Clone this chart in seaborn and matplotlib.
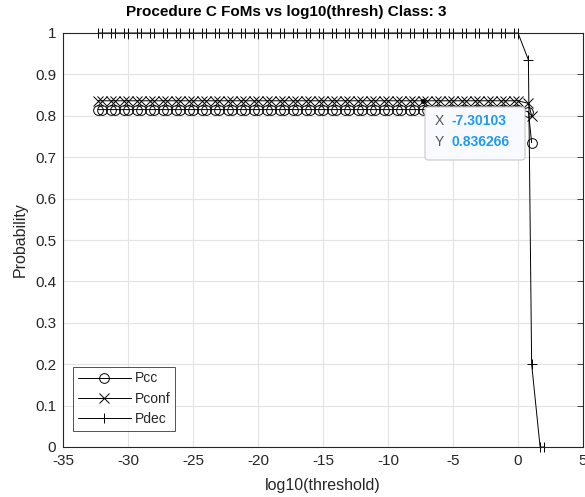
import numpy as np
import pandas as pd
import matplotlib
matplotlib.use("Agg")
import matplotlib.pyplot as plt
from matplotlib.patches import FancyBboxPatch
from matplotlib.lines import Line2D
import seaborn as sns

# log10 of the decision thresholds swept by Procedure C
log_thresh = [
    -32.301, -32.0, -31.301, -31.0, -30.301, -30.0, -29.301, -29.0,
    -28.301, -28.0, -27.301, -27.0, -26.301, -26.0, -25.301, -25.0,
    -24.301, -24.0, -23.301, -23.0, -22.301, -22.0, -21.301, -21.0,
    -20.301, -20.0, -19.301, -19.0, -18.301, -18.0, -17.301, -17.0,
    -16.301, -16.0, -15.301, -15.0, -14.301, -14.0, -13.301, -13.0,
    -12.301, -12.0, -11.301, -11.0, -10.301, -10.0, -9.301, -9.0,
    -8.301, -8.0, -7.30103, -7.0, -6.301, -6.0, -5.301, -5.0,
    -4.301, -4.0, -3.301, -3.0, -2.301, -2.0, -1.301, -1.0,
    -0.301, 0.0, 0.80, 1.05, 1.70, 2.0,
]

# figures of merit (Pcc / Pconf are undefined once nothing is declared)
pcc = [0.815] * 66 + [0.81, 0.735]
pconf = [0.836266] * 66 + [0.83, 0.80]
pdec = [1.0] * 66 + [0.935, 0.2, 0.0, 0.0]

series_names = ["Pcc", "Pconf", "Pdec"]
series_markers = ["o", "x", "+"]
series_msize = [7, 6.5, 7.5]

tip_x, tip_y = -7.30103, 0.836266

x_ticks = [-35, -30, -25, -20, -15, -10, -5, 0, 5]
y_ticks = [0, 0.1, 0.2, 0.3, 0.4, 0.5, 0.6, 0.7, 0.8, 0.9, 1]

sns.set_style("white")
plt.rcParams["font.family"] = ["Liberation Sans", "DejaVu Sans"]
plt.rcParams["axes.unicode_minus"] = False

W, H = 585, 497
fig = plt.figure(figsize=(W / 100, H / 100), dpi=100)
ax = fig.add_axes([63 / W, 1 - 447 / H, 520 / W, 414 / H])

axis_col = "#262626"
for name, vals, mk, ms in zip(series_names, [pcc, pconf, pdec],
                              series_markers, series_msize):
    n = len(vals)
    df = pd.DataFrame({"x": log_thresh[:n], "y": vals})
    sns.lineplot(data=df, x="x", y="y", ax=ax, estimator=None, sort=False,
                 color="black", lw=0.7, marker=mk, markersize=ms,
                 mfc="none", mec="black", mew=0.7, label=name, legend=False,
                 clip_on=False)

ax.set_xlim(-35, 5)
ax.set_ylim(0, 1)
ax.set_xticks(x_ticks)
ax.set_yticks(y_ticks)
ax.set_yticklabels([f"{v:g}" for v in y_ticks])
ax.grid(True, color="#e3e3e3", lw=0.8)
ax.set_axisbelow(True)
ax.tick_params(direction="in", length=4, width=0.6, colors=axis_col,
               labelsize=11, top=True, right=True, pad=5,
               labelcolor=axis_col)
for s in ax.spines.values():
    s.set_color(axis_col)
    s.set_linewidth(0.8)

ax.set_xlabel("log10(threshold)", fontsize=11.5, color=axis_col, labelpad=7)
ax.set_ylabel("Probability", fontsize=11.5, color=axis_col, labelpad=5)
fig.text(286 / W, 1 - 12 / H, "Procedure C FoMs vs log10(thresh) Class: 3",
         ha="center", va="center", fontsize=11, fontweight="bold", color="black")

handles = [Line2D([], [], color="black", lw=0.7, marker=m, markersize=ms,
                  mfc="none", mec="black", mew=0.7)
           for m, ms in zip(series_markers, series_msize)]
leg = ax.legend(handles, series_names, loc="lower left",
                bbox_to_anchor=(0.019, 0.039), borderaxespad=0,
                fontsize=10, handlelength=3.8, handletextpad=0.3,
                labelspacing=0.45, borderpad=0.35, frameon=True, fancybox=False)
leg.get_frame().set_edgecolor(axis_col)
leg.get_frame().set_linewidth(0.7)
for t in leg.get_texts():
    t.set_color(axis_col)

# data tip on the Pconf curve
ax.plot([tip_x], [tip_y], "o", color="black", markersize=2.5, zorder=6)
box = FancyBboxPatch((425 / W, 1 - 160 / H), 100 / W, 53 / H,
                     boxstyle="round,pad=0,rounding_size=0.006",
                     transform=fig.transFigure, facecolor="#f8faff",
                     edgecolor="#c9c9c9", lw=0.8, zorder=7)
fig.patches.append(box)
tip_font = dict(fontsize=10, va="center", transform=fig.transFigure, zorder=8)
fig.text(435 / W, 1 - 121 / H, "X", color="#555555", **tip_font)
fig.text(451 / W, 1 - 121 / H, f"{tip_x:.5f}", color="#1e9bf0",
         fontweight="bold", **tip_font)
fig.text(435 / W, 1 - 142 / H, "Y", color="#555555", **tip_font)
fig.text(451 / W, 1 - 142 / H, f"{tip_y:.6f}", color="#1e9bf0",
         fontweight="bold", **tip_font)

fig.savefig("out.png", dpi=100)
